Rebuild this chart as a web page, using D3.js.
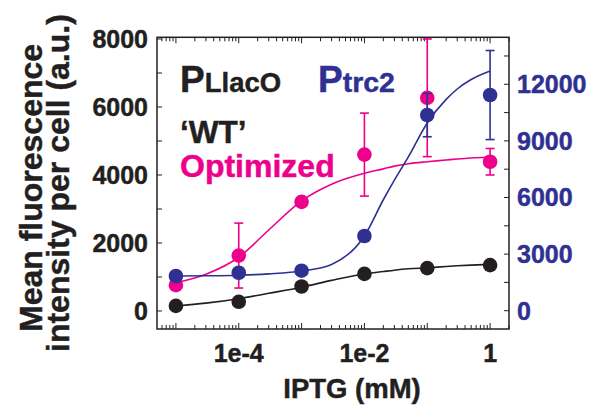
<!DOCTYPE html>
<html><head><meta charset="utf-8">
<script src="https://cdn.jsdelivr.net/npm/d3@7/dist/d3.min.js"></script>
<style>
html,body{margin:0;padding:0;background:#fff;}
svg{display:block;font-family:"Liberation Sans",Arial,Helvetica,sans-serif;font-weight:bold;}
text{stroke-width:0.45px;}
</style></head>
<body><svg id="c" width="595" height="413"></svg>
<script>
// ---- data ----
const iptg = [1e-5, 1e-4, 1e-3, 1e-2, 1e-1, 1];
const wtVals = [150, 270, 720, 1090, 1260, 1350];           // left axis
const optVals = [760, 1630, 3210, 4600, 6270, 4390];         // left axis
const optErr = [0, 955, 0, 1220, 1730, 390];
const trcVals = [1840, 2010, 2120, 3960, 10370, 11430];      // right axis
const trcErr = [0, 0, 0, 0, 1150, 2360];
// fitted curves
const fitX = [1e-5, 3e-5, 1e-4, 3e-4, 1e-3, 3e-3, 1e-2, 2e-2, 3e-2, 5e-2, 1e-1, 2e-1, 3e-1, 5e-1, 1];
const fitWT = [147, 230, 360, 520, 700, 900, 1090, 1160, 1200, 1240, 1270, 1310, 1330, 1350, 1370];
const fitOpt = [830, 1080, 1580, 2382, 3240, 3730, 4050, 4180, 4260, 4330, 4390, 4440, 4470, 4500, 4520];
const fitTrc = [1840, 1850, 1880, 1950, 2100, 2450, 3960, 5880, 6920, 8150, 9950, 11200, 11750, 12250, 12700];
const xTickVals = [1e-4, 1e-2, 1];
const xTickLabels = ["1e-4", "1e-2", "1"];
const leftTicks = [0, 2000, 4000, 6000, 8000];
const rightTicks = [0, 3000, 6000, 9000, 12000];

const BLACK = "#231f20", PINK = "#ec008c", BLUE = "#2e3192";
const svg = d3.select("#c");
const L = 157, R = 509, T = 37.3, B = 329;

const x = d3.scaleLog().domain([5e-6, 2]).range([L, R]);
const yL = d3.scaleLinear().domain([-530, 8050]).range([B, T]);
const yR = d3.scaleLinear().domain([-970, 14490]).range([B, T]);

// frame
svg.append("rect").attr("x", L).attr("y", T).attr("width", R - L).attr("height", B - T)
  .attr("fill", "none").attr("stroke", BLACK).attr("stroke-width", 1.5);

// x log ticks (bottom & top, inside)
const minorX = [];
for (let e = -6; e <= 0; e++) for (let m = 1; m <= 9; m++) {
  const v = m * Math.pow(10, e);
  if (v >= 5e-6 && v <= 2) minorX.push({v, major: m === 1});
}
const tg = svg.append("g").attr("stroke", BLACK).attr("stroke-width", 1);
minorX.forEach(t => {
  const px = x(t.v), len = t.major ? 6 : 4;
  tg.append("line").attr("x1", px).attr("x2", px).attr("y1", B).attr("y2", B - len);
  tg.append("line").attr("x1", px).attr("x2", px).attr("y1", T).attr("y2", T + len);
});
// left ticks every 1000 inside
d3.range(0, 8001, 1000).forEach(v => {
  tg.append("line").attr("x1", L).attr("x2", L + 5).attr("y1", yL(v)).attr("y2", yL(v));
});
// right ticks every 1500 inside
d3.range(0, 14000, 1500).forEach(v => {
  tg.append("line").attr("x1", R).attr("x2", R - 5).attr("y1", yR(v)).attr("y2", yR(v));
});

// tick labels
svg.append("g").selectAll("text").data(leftTicks).join("text")
  .attr("x", 148).attr("y", d => yL(d) + 9).attr("text-anchor", "end")
  .attr("font-size", 25).attr("fill", BLACK).attr("stroke", BLACK).text(d => d);
svg.append("g").selectAll("text").data(rightTicks).join("text")
  .attr("x", 517).attr("y", d => yR(d) + 9).attr("text-anchor", "start")
  .attr("font-size", 25).attr("fill", BLUE).attr("stroke", BLUE).text(d => d);
svg.append("g").selectAll("text").data(xTickVals).join("text")
  .attr("x", d => x(d)).attr("y", 362).attr("text-anchor", "middle")
  .attr("font-size", 25).attr("fill", BLACK).attr("stroke", BLACK).text((d, i) => xTickLabels[i]);

// axis titles
svg.append("text").attr("x", 352).attr("y", 398).attr("text-anchor", "middle")
  .attr("font-size", 27.5).attr("fill", BLACK).attr("stroke", BLACK).text("IPTG (mM)");
svg.append("text").attr("transform", "translate(41.5,332) rotate(-90)")
  .attr("font-size", 32).attr("fill", BLACK).attr("stroke", BLACK).text("Mean fluorescence");
svg.append("text").attr("transform", "translate(69,352) rotate(-90)")
  .attr("font-size", 32).attr("fill", BLACK).attr("stroke", BLACK).text("intensity per cell (a.u.)");

// legend texts
const t1 = svg.append("text").attr("x", 180).attr("y", 92).attr("fill", BLACK).attr("stroke", BLACK);
t1.append("tspan").attr("font-size", 37).text("P");
t1.append("tspan").attr("font-size", 27.5).text("LlacO");
const t2 = svg.append("text").attr("x", 318).attr("y", 92).attr("fill", BLUE).attr("stroke", BLUE);
t2.append("tspan").attr("font-size", 37).text("P");
t2.append("tspan").attr("font-size", 28.5).text("trc2");
svg.append("text").attr("x", 180).attr("y", 143).attr("font-size", 31.5).attr("fill", BLACK).attr("stroke", BLACK).text("\u2018WT\u2019");
svg.append("text").attr("x", 180).attr("y", 177).attr("font-size", 32).attr("fill", PINK).attr("stroke", PINK).text("Optimized");

// series
function drawSeries(vals, err, fit, yS, color) {
  const g = svg.append("g");
  const line = d3.line().x((d, i) => x(fitX[i])).y(d => yS(d)).curve(d3.curveMonotoneX);
  g.append("path").attr("d", line(fit)).attr("fill", "none").attr("stroke", color).attr("stroke-width", 1.6);
  vals.forEach((v, i) => {
    if (err && err[i] > 0) {
      const px = x(iptg[i]), y1 = yS(v + err[i]), y2 = yS(v - err[i]);
      g.append("line").attr("x1", px).attr("x2", px).attr("y1", y1).attr("y2", y2).attr("stroke", color).attr("stroke-width", 1.6);
      [y1, y2].forEach(yy => g.append("line").attr("x1", px - 4.5).attr("x2", px + 4.5).attr("y1", yy).attr("y2", yy).attr("stroke", color).attr("stroke-width", 1.6));
    }
  });
  g.selectAll("circle").data(vals).join("circle")
    .attr("cx", (d, i) => x(iptg[i])).attr("cy", d => yS(d)).attr("r", 7.3).attr("fill", color);
}
drawSeries(wtVals, null, fitWT, yL, BLACK);
drawSeries(optVals, optErr, fitOpt, yL, PINK);
drawSeries(trcVals, trcErr, fitTrc, yR, BLUE);
</script></body></html>
